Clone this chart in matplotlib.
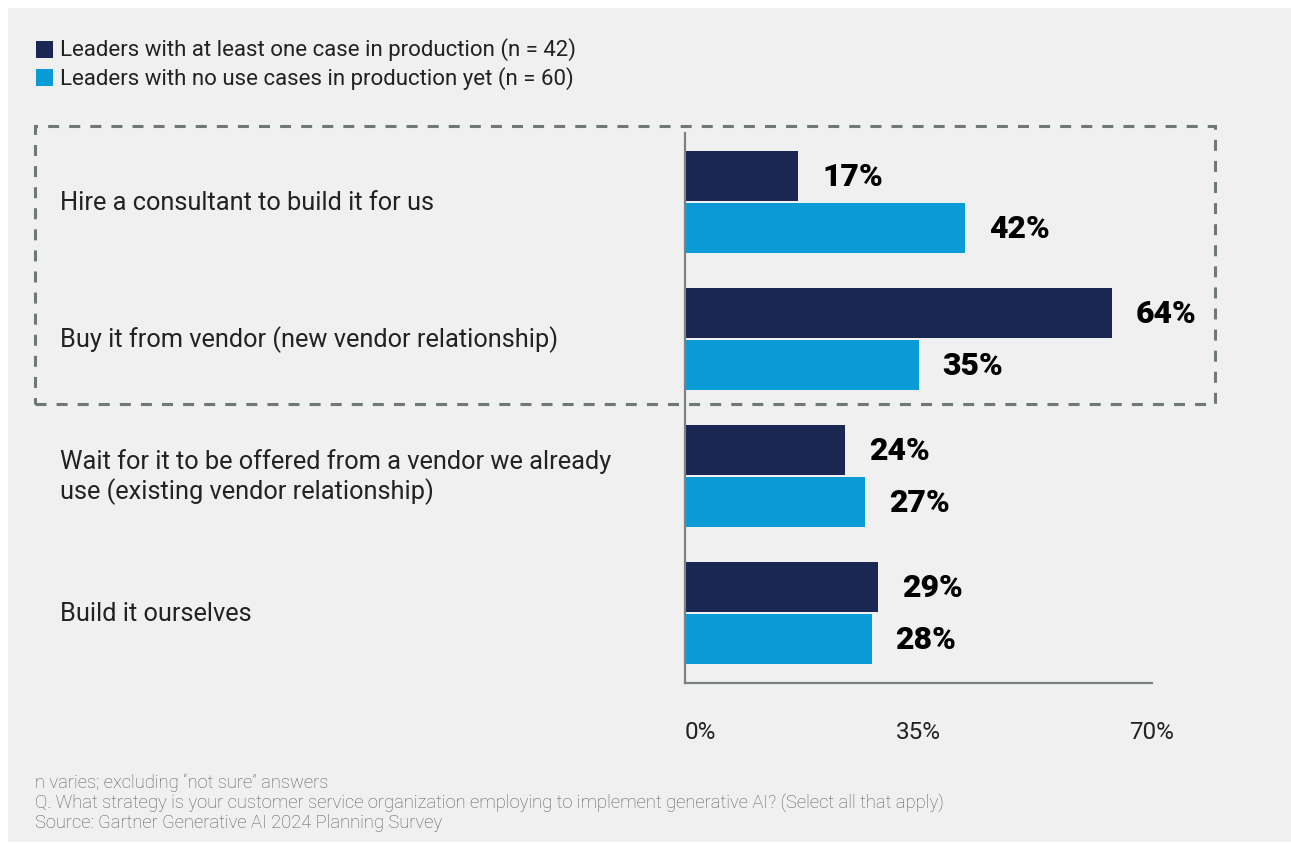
import numpy as np
import matplotlib.pyplot as plt
from matplotlib.patches import Rectangle
from matplotlib.transforms import blended_transform_factory

# chart data
categories = [
    'Hire a consultant to build it for us',
    'Buy it from vendor (new vendor relationship)',
    'Wait for it to be offered from a vendor we already\nuse (existing vendor relationship)',
    'Build it ourselves',
]
with_prod = [17, 64, 24, 29]
no_prod = [42, 35, 27, 28]
series_names = [
    'Leaders with at least one case in production (n = 42)',
    'Leaders with no use cases in production yet (n = 60)',
]
x_ticks = [0, 35, 70]
x_ticklabels = ['0%', '35%', '70%']
notes = [
    'n varies; excluding \u201cnot sure\u201d answers',
    'Q. What strategy is your customer service organization employing to implement generative AI? (Select all that apply)',
    'Source: Gartner Generative AI 2024 Planning Survey',
]

DARK = '#1a2752'
LIGHT = '#0a9bd6'
BG = '#f0f0f0'
GREY = '#6f7878'
FONT = 'Roboto'

W, H = 1291, 845
fig = plt.figure(figsize=(W / 100, H / 100), dpi=100)
fig.patch.set_facecolor('white')


def px(x, y):
    '''pixel (from top-left) to figure fraction'''
    return x / W, 1 - y / H


# grey panel
fig.add_artist(Rectangle(px(8, 843), (W - 8) / W, (843 - 9) / H,
                         transform=fig.transFigure, facecolor=BG,
                         edgecolor='none', zorder=0))

# axes placed in pixel space
left, right, top, bottom = 685, 1152, 134, 684
ax = fig.add_axes([left / W, 1 - bottom / H, (right - left) / W, (bottom - top) / H])
ax.set_facecolor('none')

spacing = 137.0
ypos = np.arange(len(categories))
bh = 50 / spacing
off = 26 / spacing
ax.barh(ypos - off, with_prod, height=bh, color=DARK, zorder=2)
ax.barh(ypos + off, no_prod, height=bh, color=LIGHT, zorder=2)

for y, v in zip(ypos - off, with_prod):
    ax.annotate(f'{v}%', (v, y), xytext=(17, 0), textcoords='offset points',
                ha='left', va='center', fontsize=23, fontweight='black',
                family=FONT, color='black')
for y, v in zip(ypos + off, no_prod):
    ax.annotate(f'{v}%', (v, y), xytext=(17, 0), textcoords='offset points',
                ha='left', va='center', fontsize=23, fontweight='black',
                family=FONT, color='black')

ax.set_xlim(0, 70)
ax.set_ylim((bottom - 203) / spacing, (top - 203) / spacing)
ax.set_yticks([])
ax.set_xticks(x_ticks)
ax.set_xticklabels(x_ticklabels, family=FONT, fontsize=17.5, color='#222222')
ax.get_xticklabels()[0].set_ha('left')
ax.tick_params(axis='x', length=0, pad=27)
for s in ['top', 'right']:
    ax.spines[s].set_visible(False)
for s in ['left', 'bottom']:
    ax.spines[s].set_color('#7a8283')
    ax.spines[s].set_linewidth(1.6)

# category labels, left aligned in figure space
tr = blended_transform_factory(fig.transFigure, ax.transData)
for y, label in zip(ypos, categories):
    ax.text(60 / W, y, label, transform=tr, ha='left', va='center',
            fontsize=18.3, family=FONT, color='#222222', linespacing=1.2)

# legend
for i, (name, c) in enumerate(zip(series_names, [DARK, LIGHT])):
    yc = 50 + i * 28.5
    fig.add_artist(Rectangle(px(36, yc + 8.5), 17 / W, 17 / H,
                             transform=fig.transFigure, facecolor=c,
                             edgecolor='none'))
    fig.text(*px(60, yc), name, ha='left', va='center', fontsize=16,
             family=FONT, color='#222222')

# dashed highlight box
box = Rectangle(px(35, 405), (1215 - 35) / W, (405 - 127) / H,
                transform=fig.transFigure, facecolor='none', edgecolor=GREY,
                linewidth=2.2, linestyle=(0, (3.6, 3.3)), zorder=5)
fig.add_artist(box)

# footnotes
for i, t in enumerate(notes):
    fig.text(*px(35, 783 + i * 20), t, ha='left', va='center', fontsize=13.2,
             family=FONT, fontweight='light', color='#5a5a5a')

fig.savefig('out.png', dpi=100, facecolor=fig.get_facecolor())
